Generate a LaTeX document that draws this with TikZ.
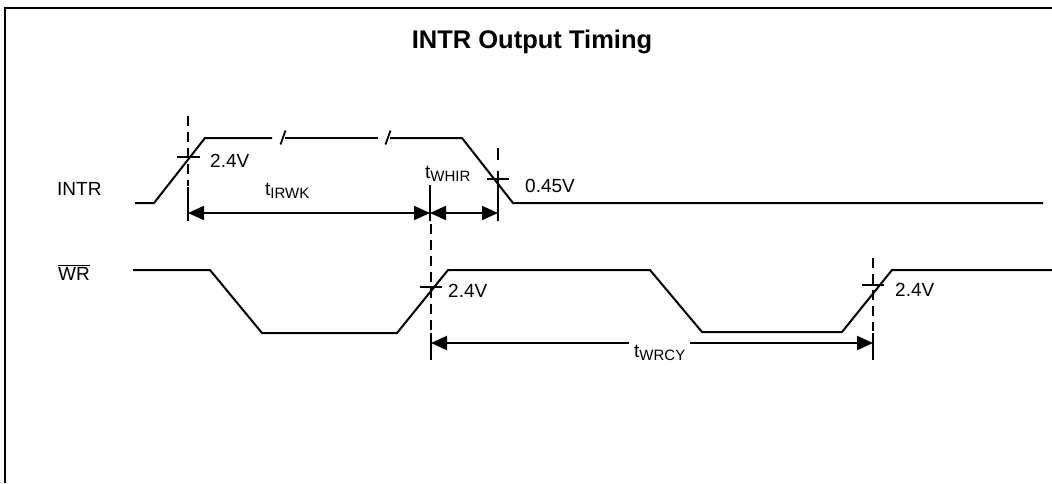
\documentclass[tikz,border=0pt]{standalone}
\usepackage{fontspec}
\setmainfont{Liberation Sans}
\usetikzlibrary{arrows.meta}
\newcommand{\tsubx}[1]{t\raisebox{-3.5pt}{\fontsize{15}{15}\selectfont #1}}
\begin{document}
\begin{tikzpicture}[x=1pt,y=-1pt,
  sig/.style={line width=2pt, line join=miter},
  frm/.style={line width=2.8pt},
  vdash/.style={line width=1.8pt, dash pattern=on 10pt off 6pt},
  vsolid/.style={line width=2pt},
  crossm/.style={line width=1.8pt},
  brk/.style={line width=1.8pt},
  dim/.style={line width=2pt, {Triangle[length=16pt,width=14pt]}-{Triangle[length=16pt,width=14pt]}},
  lbl/.style={font=\fontsize{19}{21}\selectfont, inner sep=0pt, anchor=base west},
  ttl/.style={font=\bfseries\fontsize{25.5}{28}\selectfont, inner sep=0pt, anchor=base}]
\useasboundingbox (0,0) rectangle (1052,483);
% frame
\draw[frm] (5,483) -- (5,8) -- (1052,8);
% title
\node[ttl] (title) at (532,48) {INTR Output Timing};
% signal names
\node[lbl] (intr) at (57,195) {INTR};
\node[lbl] (wr) at (58,280) {$\overline{\mbox{WR}}$};
% INTR waveform
\draw[sig] (135,203) -- (154,203) -- (205,138) -- (272,138);
\draw[sig] (285,138) -- (378,138);
\draw[sig] (390,138) -- (462,138) -- (513,203) -- (1043,203);
\draw[brk] (280.5,144.5) -- (285.5,130.5);
\draw[brk] (385.5,144.5) -- (390.5,130.5);
% WR waveform
\draw[sig] (133,270) -- (210,270) -- (262,333) -- (397,333) -- (448,270) -- (650,270) -- (702,332) -- (842,332) -- (892,270) -- (1052,270);
% reference points
\coordinate (a1) at (188,213);
\coordinate (a2) at (430,213);
\coordinate (a3) at (498,213);
\coordinate (b1) at (431,343);
\coordinate (b2) at (873,343);
% vertical lines
\draw[vdash] (188,116) -- (188,186);
\draw[vsolid] (188,187) -- (188,221);
\draw[vsolid] (430,185) -- (430,221);
\draw[vdash] (431,224) -- (431,331);
\draw[vsolid] (431,333) -- (431,360);
\draw[vsolid] (498,148) -- (498,160);
\draw[vsolid] (498,171) -- (498,221);
\draw[vdash] (873,258) -- (873,331);
\draw[vsolid] (873,333) -- (873,360);
% threshold crosses
\draw[crossm] (177,157) -- (200,157);
\draw[crossm] (487,179) -- (509,179);
\draw[crossm] (420,287) -- (442,287);
\draw[crossm] (862,285) -- (884,285);
% dimension arrows
\draw[dim] (a1) -- (a2);
\draw[dim] (a2) -- (a3);
\draw[dim] (b1) -- (b2);
% labels
\node[lbl] (v1) at (210,167) {2.4V};
\node[lbl] (v2) at (525,192) {0.45V};
\node[lbl] (v3) at (448,297) {2.4V};
\node[lbl] (v4) at (895,296) {2.4V};
\node[lbl] (tirwk) at (265,195) {\tsubx{IRWK}};
\node[lbl] (twhir) at (425,178) {\tsubx{WHIR}};
\node[lbl, fill=white, inner xsep=5pt, inner ysep=3pt] (twrcy) at (629,357) {\tsubx{WRCY}};
\end{tikzpicture}
\end{document}
